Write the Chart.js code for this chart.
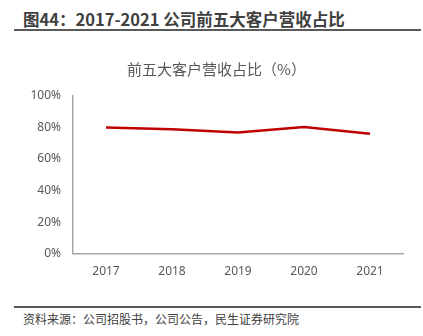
<!DOCTYPE html>
<html>
<head>
<meta charset="utf-8">
<script src="https://cdn.jsdelivr.net/npm/chart.js@4"></script>
<style>
  body { margin: 0; background: #fff; font-family: "Noto Sans CJK SC", "Noto Sans", sans-serif; }
  #wrap { position: relative; width: 423px; height: 336px; overflow: hidden; }
  #head { position: absolute; left: 23px; top: 7px; font-size: 16.5px; font-weight: bold; color: #404040; line-height: 24px; white-space: nowrap; }
  #rule1 { position: absolute; left: 14px; top: 29px; width: 407px; height: 2px; background: #595959; }
  #box { position: absolute; left: 0; top: 50px; width: 423px; height: 240px; }
  #rule2 { position: absolute; left: 14px; top: 306px; width: 407px; height: 2px; background: #595959; }
  #foot { position: absolute; left: 23px; top: 310px; font-size: 12px; color: #404040; line-height: 18px; white-space: nowrap; }
</style>
</head>
<body>
<div id="wrap">
  <div id="head">图44：2017-2021 公司前五大客户营收占比</div>
  <div id="rule1"></div>
  <div id="box"><canvas id="chart"></canvas></div>
  <div id="rule2"></div>
  <div id="foot">资料来源：公司招股书，公司公告，民生证券研究院</div>
</div>
<script>
// data
const years = ['2017', '2018', '2019', '2020', '2021'];
const top5Share = [80.0, 78.9, 76.8, 80.4, 76.1];
const yTicks = [0, 20, 40, 60, 80, 100];

const ctx = document.getElementById('chart').getContext('2d');
new Chart(ctx, {
    type: 'line',
    data: {
        labels: years,
        datasets: [{
            label: '前五大客户营收占比',
            data: top5Share,
            borderColor: '#c00000',
            borderWidth: 2.5,
            pointRadius: 0,
            tension: 0,
            fill: false
        }]
    },
    options: {
        responsive: true,
        maintainAspectRatio: false,
        animation: false,
        layout: { padding: { left: 30, right: 20, top: 0, bottom: 0 } },
        plugins: {
            legend: { display: false },
            tooltip: { enabled: false },
            title: {
                display: true,
                text: '前五大客户营收占比（%）',
                color: '#595959',
                font: { size: 15, family: '"Noto Sans CJK SC", sans-serif', weight: 'normal' },
                padding: { top: 10, bottom: 18 }
            }
        },
        scales: {
            x: {
                offset: true,
                grid: { display: false, drawTicks: false },
                border: { color: '#a6a6a6', width: 1.5 },
                ticks: {
                    color: '#595959',
                    padding: 11,
                    font: { size: 12, family: '"Noto Sans", sans-serif' }
                }
            },
            y: {
                min: 0,
                max: 100,
                afterFit: (scale) => { scale.width = 43; },
                afterBuildTicks: (scale) => { scale.ticks = yTicks.map(v => ({ value: v })); },
                grid: { display: false, drawTicks: false },
                border: { color: '#a6a6a6', width: 1.5 },
                ticks: {
                    color: '#595959',
                    padding: 12,
                    font: { size: 12, family: '"Noto Sans", sans-serif' },
                    callback: (v) => v + '%'
                }
            }
        }
    }
});
</script>
</body>
</html>
